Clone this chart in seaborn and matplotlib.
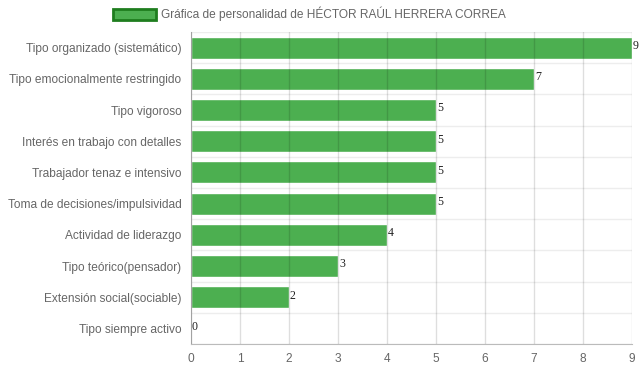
import matplotlib
matplotlib.use("Agg")
import matplotlib.pyplot as plt
import seaborn as sns
import pandas as pd

categories = [
    "Tipo organizado (sistemático)",
    "Tipo emocionalmente restringido",
    "Tipo vigoroso",
    "Interés en trabajo con detalles",
    "Trabajador tenaz e intensivo",
    "Toma de decisiones/impulsividad",
    "Actividad de liderazgo",
    "Tipo teórico(pensador)",
    "Extensión social(sociable)",
    "Tipo siempre activo",
]
values = [9, 7, 5, 5, 5, 5, 4, 3, 2, 0]
x_ticks = list(range(0, 10))
legend_label = "Gráfica de personalidad de HÉCTOR RAÚL HERRERA CORREA"

df = pd.DataFrame({"categoria": categories, "valor": values})

sns.set_style("white")
plt.rcParams["font.family"] = ["Liberation Sans", "DejaVu Sans"]

fig = plt.figure(figsize=(6.39, 3.72), dpi=100)
ax = fig.add_axes([191 / 639, 1 - 344 / 372, (632 - 191) / 639, (344 - 32) / 372])

sns.barplot(
    data=df,
    x="valor",
    y="categoria",
    orient="h",
    color="#4CAF50",
    saturation=1,
    width=0.71,
    label=legend_label,
    ax=ax,
    zorder=2,
)

ax.set_xlim(0, 9)
ax.set_ylim(len(categories) - 0.5, -0.5)
ax.set_xticks(x_ticks)
ax.set_xlabel("")
ax.set_ylabel("")

# vertical grid on top of bars, horizontal between categories
for xv in x_ticks:
    ax.axvline(xv, color=(0, 0, 0, 0.13), lw=1, zorder=3)
for yv in [i - 0.5 for i in range(len(categories) + 1)]:
    ax.axhline(yv, color=(0, 0, 0, 0.07), lw=1, zorder=1)

for s in ["top", "right"]:
    ax.spines[s].set_visible(False)
ax.spines["left"].set_color("#bbbbbb")
ax.spines["bottom"].set_color("#bbbbbb")

ax.tick_params(axis="x", length=4.5, color="#cccccc", labelsize=8.6, labelcolor="#666666", pad=2)
ax.tick_params(axis="y", length=4.5, color="#eeeeee", labelsize=8.6, labelcolor="#666666", pad=2.5)
ax.set_yticks(range(len(categories)))
ax.set_yticklabels(categories, va="center_baseline")

for i, v in enumerate(values):
    ax.text(v + 0.02, i - 0.05, str(v), va="center", ha="left", fontsize=8.6,
            family="Liberation Serif", color="#222222", zorder=4)

leg = ax.legend(
    loc="center",
    bbox_to_anchor=(0.5 * (111 + 508) / 639, 1 - 14 / 372),
    bbox_transform=fig.transFigure,
    frameon=False,
    fontsize=8.6,
    handlelength=3.6,
    handleheight=1.0,
    handletextpad=0.45,
    labelcolor="#666666",
)
for h in leg.legend_handles:
    h.set_edgecolor("#1e7d1e")
    h.set_linewidth(2)

fig.savefig("out.png", dpi=100)
